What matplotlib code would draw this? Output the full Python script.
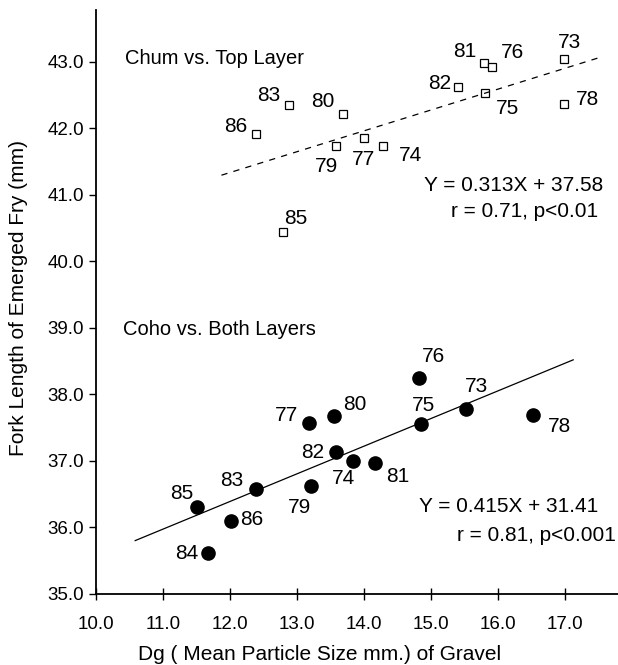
import matplotlib.pyplot as plt
import numpy as np

plt.rcParams['font.family'] = ['Liberation Sans', 'DejaVu Sans']

# chum fry vs. top layer gravel
chum_year = ['73', '81', '76', '82', '75', '78', '83', '80', '86', '77', '74', '79', '85']
chum_dg = [16.99, 15.79, 15.91, 15.40, 15.81, 16.99, 12.88, 13.69, 12.39, 14.00, 14.29, 13.58, 12.79]
chum_fl = [43.04, 42.99, 42.93, 42.62, 42.53, 42.36, 42.35, 42.21, 41.92, 41.86, 41.74, 41.74, 40.44]
chum_fit = (0.313, 37.58)
chum_fit_range = [11.87, 17.50]

# coho fry vs. both layers
coho_year = ['76', '73', '78', '75', '77', '80', '82', '74', '81', '79', '83', '85', '86', '84']
coho_dg = [14.83, 15.53, 16.53, 14.85, 13.18, 13.55, 13.58, 13.83, 14.16, 13.21, 12.38, 11.51, 12.01, 11.67]
coho_fl = [38.25, 37.78, 37.69, 37.56, 37.57, 37.67, 37.13, 37.00, 36.97, 36.62, 36.57, 36.31, 36.09, 35.62]
coho_fit = (0.415, 31.41)
coho_fit_range = [10.58, 17.13]

# label offsets (pixels, right / down)
chum_off = [(6, -17), (-19, -11), (21, -14), (-18, -4), (23, 15), (24, -5), (-20, -10),
            (-20, -13), (-20, -7), (0, 22), (27, 10), (-9, 21), (13, -14)]
coho_off = [(14, -21), (10, -22), (26, 12), (3, -18), (-23, -7), (21, -12), (-23, 0),
            (-9, 18), (23, 14), (-12, 21), (-24, -9), (-16, -13), (21, -2), (-21, 1)]

fig = plt.figure(figsize=(6.18, 6.65), dpi=100)
ax = fig.add_axes([0.156, 0.107, 0.844, 0.878])

ax.plot(chum_dg, chum_fl, 's', ms=5.5, mfc='white', mec='black', mew=0.9)
ax.plot(coho_dg, coho_fl, 'o', ms=9.5, color='black')

xs = np.array(chum_fit_range)
ax.plot(xs, chum_fit[0] * xs + chum_fit[1], color='black', lw=0.9, ls=(0, (5, 5)))
xs = np.array(coho_fit_range)
ax.plot(xs, coho_fit[0] * xs + coho_fit[1], color='black', lw=0.9)

for lab, x, y, (dx, dy) in zip(chum_year, chum_dg, chum_fl, chum_off):
    ax.annotate(lab, (x, y), xytext=(dx, -dy), textcoords='offset pixels',
                ha='center', va='center', fontsize=15)
for lab, x, y, (dx, dy) in zip(coho_year, coho_dg, coho_fl, coho_off):
    ax.annotate(lab, (x, y), xytext=(dx, -dy), textcoords='offset pixels',
                ha='center', va='center', fontsize=15)

ax.text(10.43, 43.05, 'Chum vs. Top Layer', fontsize=14.5, va='center')
ax.text(10.40, 38.97, 'Coho vs. Both Layers', fontsize=14.5, va='center')
ax.text(17.58, 41.14, 'Y = 0.313X + 37.58', fontsize=15, ha='right', va='center')
ax.text(17.50, 40.75, 'r = 0.71, p<0.01', fontsize=15, ha='right', va='center')
ax.text(17.50, 36.32, 'Y = 0.415X + 31.41', fontsize=15, ha='right', va='center')
ax.text(17.77, 35.88, 'r = 0.81, p<0.001', fontsize=15, ha='right', va='center')

ax.set_xlim(10.0, 17.8)
ax.set_ylim(35.0, 43.78)
ax.set_xticks(np.arange(10, 18, 1.0))
ax.set_xticklabels(['%.1f' % v for v in np.arange(10, 18, 1.0)])
ax.set_yticks(np.arange(35, 44, 1.0))
ax.set_yticklabels(['%.1f' % v for v in np.arange(35, 44, 1.0)])
ax.tick_params(axis='x', direction='inout', length=8, width=1, labelsize=13.5, pad=12)
ax.tick_params(axis='y', direction='out', length=5, width=1, labelsize=13.5, pad=4)

for s in ['top', 'right']:
    ax.spines[s].set_visible(False)
for s in ['left', 'bottom']:
    ax.spines[s].set_linewidth(1.3)

ax.set_ylabel('Fork Length of Emerged Fry (mm)', fontsize=15)
ax.yaxis.set_label_coords(-0.131, 0.507)
fig.text(320 / 618, 1 - 655 / 665, 'Dg ( Mean Particle Size mm.) of Gravel',
         fontsize=15, ha='center', va='center')

fig.savefig('out.png', dpi=100)
